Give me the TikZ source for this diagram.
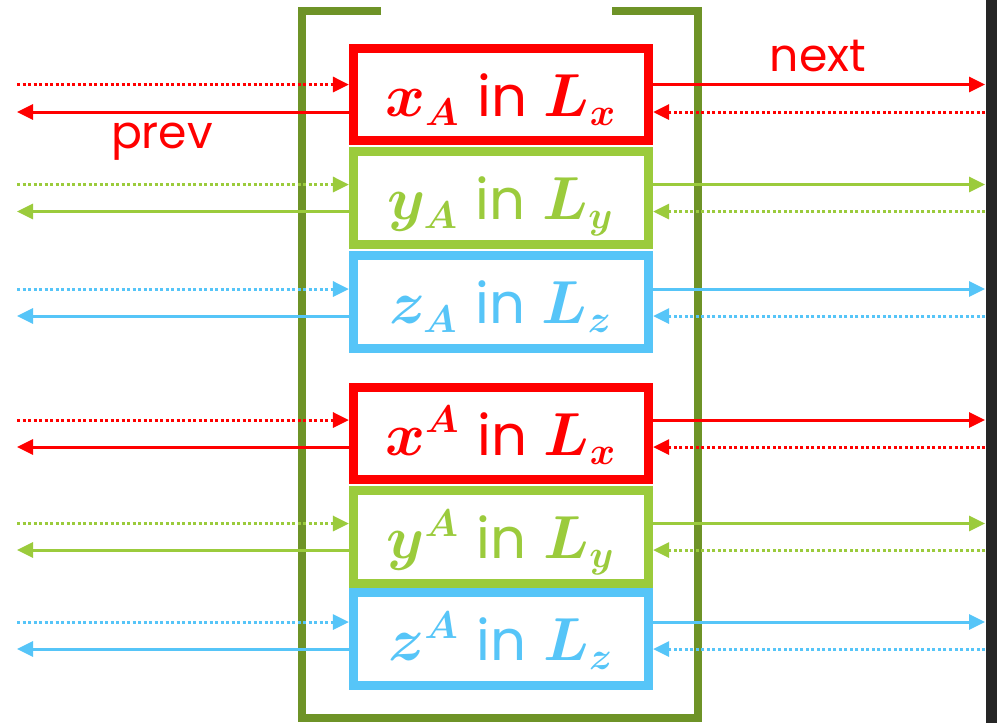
\documentclass[tikz,border=0pt]{standalone}
\usepackage{fontspec}
\setmainfont{Poppins}
\usetikzlibrary{arrows.meta}
\definecolor{cred}{HTML}{FF0000}
\definecolor{cgreen}{HTML}{9BCB3C}
\definecolor{cblue}{HTML}{56C5F8}
\definecolor{colive}{HTML}{6E9327}
\definecolor{cstrip}{HTML}{262626}
\newcommand{\mylbl}[2]{{\boldmath\fontsize{16}{19}\selectfont$#1$\hspace{0.3em}{\fontsize{16}{19}\selectfont in}\hspace{0.3em}$#2$}}
\tikzset{
  listbox/.style={draw=#1, text=#1, line width=0.09cm, minimum width=2.95cm, minimum height=0.92cm,
    inner sep=0pt, text height=0.43cm, text depth=0cm},
  sol/.style={line width=0.03cm, -{Triangle[length=0.16cm,width=0.15cm]}},
  dotl/.style={sol, dash pattern=on 0.03cm off 0.025cm},
  lab/.style={text=cred, anchor=base, font=\fontsize{13}{15}\selectfont, inner sep=0pt}}
\begin{document}
\begin{tikzpicture}[x=0.01cm,y=-0.01cm]
\useasboundingbox (0,0) rectangle (997,723);
\fill[white] (0,0) rectangle (997,723);
\fill[cstrip] (986,0) rectangle (997,723);
\draw[colive, line width=0.08cm, line join=miter]
  (381,11) -- (302,11) -- (302,718) -- (698,718) -- (698,11) -- (612,11);
\node[listbox=cred] (r1) at (501,94.5) {\mylbl{x_A}{L_x}};
\node[listbox=cgreen] (g1) at (501,198) {\mylbl{y_A}{L_y}};
\node[listbox=cblue] (b1) at (501,302) {\mylbl{z_A}{L_z}};
\node[listbox=cred] (r2) at (501,433.5) {\mylbl{x^A}{L_x}};
\node[listbox=cgreen] (g2) at (501,537) {\mylbl{y^A}{L_y}};
\node[listbox=cblue] (b2) at (501,639) {\mylbl{z^A}{L_z}};
\foreach \b/\c/\ya/\yb in {r1/cred/84.5/112, g1/cgreen/184.5/211.5, b1/cblue/289/316,
  r2/cred/420/447, g2/cgreen/523.5/550, b2/cblue/622/649}{
  \coordinate (\b-lin) at (17,\ya);
  \coordinate (\b-lout) at (17,\yb);
  \coordinate (\b-rout) at (985,\ya);
  \coordinate (\b-rin) at (985,\yb);
  \draw[dotl, \c] (\b-lin) -- (\b-lin -| \b.west);
  \draw[sol, \c] (\b-lout -| \b.west) -- (\b-lout);
  \draw[sol, \c] (\b-rout -| \b.east) -- (\b-rout);
  \draw[dotl, \c] (\b-rin) -- (\b-rin -| \b.east);
}
\node[lab] (prev) at (162,148) {prev};
\node[lab] (next) at (818,71) {next};
\end{tikzpicture}
\end{document}
